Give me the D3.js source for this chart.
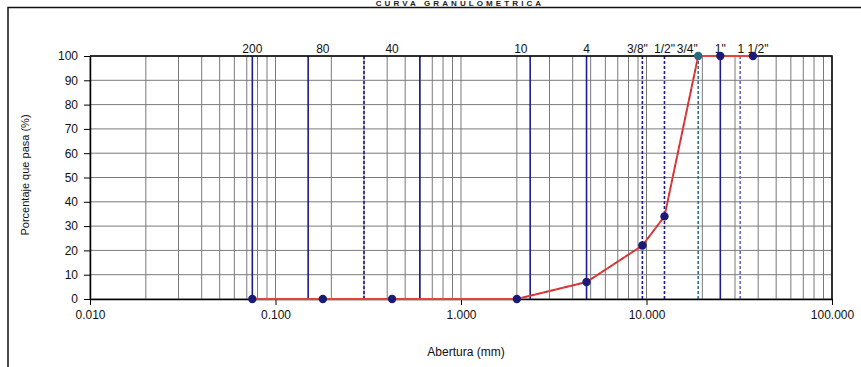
<!DOCTYPE html>
<html>
<head>
<meta charset="utf-8">
<script src="https://cdn.jsdelivr.net/npm/d3@7"></script>
<style>
  html, body { margin: 0; padding: 0; background: #fff; }
  svg { display: block; font-family: "Liberation Sans", Arial, sans-serif; }
</style>
</head>
<body>
<svg id="chart" width="861" height="367"></svg>
<script>
// ---- data ----
const title = "CURVA GRANULOMETRICA";
const xAxisTitle = "Abertura (mm)";
const yAxisTitle = "Porcentaje que pasa (%)";
const sieveSizes = [37.5, 25, 19, 12.5, 9.5, 4.75, 2.0, 0.425, 0.18, 0.075];
const percentPassing = [100, 100, 100, 34, 22, 7, 0, 0, 0, 0];
const sieveLabels = ["1 1/2\"", "1\"", "3/4\"", "1/2\"", "3/8\"", "4", "10", "40", "80", "200"];
const refLineSizes = [0.075, 0.15, 0.3, 0.6, 2.36, 4.75, 9.5, 12.5, 19, 25, 32];
const refLineDashed = [false, false, true, false, false, false, true, true, true, false, true];
const xTickValues = [0.01, 0.1, 1, 10, 100];
const yTickValues = [0, 10, 20, 30, 40, 50, 60, 70, 80, 90, 100];

// ---- layout ----
const svg = d3.select("#chart");
const L = 90, R = 832, T = 56, B = 299;
const x = d3.scaleLog().domain([0.01, 100]).range([L, R]);
const y = d3.scaleLinear().domain([0, 100]).range([B, T]);

// outer frame
svg.append("path").attr("d", "M8,367 L8,7.5 L861,7.5").attr("fill", "none")
  .attr("stroke", "#111").attr("stroke-width", 1.5);
svg.append("text").attr("x", 460).attr("y", 6.2).attr("text-anchor", "middle")
  .attr("font-size", 8).attr("font-weight", "bold").attr("letter-spacing", 3.1)
  .attr("fill", "#222").text(title);

// gridlines
const grid = svg.append("g");
const minor = [];
for (let e = -2; e < 2; e++) for (let k = 1; k <= 9; k++) minor.push(k * Math.pow(10, e));
minor.push(100);
grid.selectAll("line.v").data(minor).join("line")
  .attr("x1", d => x(d)).attr("x2", d => x(d)).attr("y1", T).attr("y2", B)
  .attr("stroke", "#7a7a7a").attr("stroke-width", 1);
grid.selectAll("line.h").data(yTickValues).join("line")
  .attr("x1", L).attr("x2", R).attr("y1", d => y(d)).attr("y2", d => y(d))
  .attr("stroke", "#7a7a7a").attr("stroke-width", 1);

// sieve reference lines
svg.append("g").selectAll("line").data(refLineSizes).join("line")
  .attr("x1", d => x(d)).attr("x2", d => x(d)).attr("y1", T).attr("y2", B)
  .attr("stroke", (d, i) => i === 8 ? "#2f6f8f" : (i === 10 ? "#6a6ac0" : "#1c1c8c"))
  .attr("stroke-width", 1.6)
  .attr("stroke-dasharray", (d, i) => refLineDashed[i] ? "3,2" : null);

// axes
const yAxis = d3.axisLeft(y).tickValues(yTickValues).tickSize(6).tickSizeOuter(0).tickFormat(d3.format("d"));
const gy = svg.append("g").attr("transform", `translate(${L},0)`).call(yAxis);
gy.select(".domain").attr("stroke", "#000").attr("stroke-width", 1.5);
gy.selectAll(".tick line").attr("stroke", "#000");
gy.selectAll(".tick text").attr("font-size", 12).attr("fill", "#111").attr("font-family", "Liberation Sans, Arial, sans-serif").attr("x", -12);

const xAxis = d3.axisBottom(x).tickValues(xTickValues).tickSize(6).tickSizeOuter(0).tickFormat(d3.format(".3f"));
const gx = svg.append("g").attr("transform", `translate(0,${B})`).call(xAxis);
gx.select(".domain").attr("stroke", "#000").attr("stroke-width", 1.5);
gx.selectAll(".tick line").attr("stroke", "#000");
gx.selectAll(".tick text").attr("font-size", 12).attr("fill", "#111").attr("font-family", "Liberation Sans, Arial, sans-serif").attr("y", 11);

// top & right border
svg.append("path").attr("d", `M${L},${T} L${R},${T} L${R},${B}`).attr("fill", "none")
  .attr("stroke", "#000").attr("stroke-width", 1.5);

// sieve labels
const labelDx = [0, 0, -11, 0, -5, 0, 4, 0, 0, 0];
svg.append("g").selectAll("text").data(sieveLabels).join("text")
  .attr("x", (d, i) => x(sieveSizes[i]) + labelDx[i]).attr("y", 53)
  .attr("text-anchor", "middle").attr("font-size", 12).attr("fill", "#111").text(d => d);

// curve
const pts = sieveSizes.map((s, i) => [s, percentPassing[i]]).sort((a, b) => a[0] - b[0]);
const line = d3.line().x(d => x(d[0])).y(d => y(d[1]));
svg.append("path").datum(pts).attr("d", line).attr("fill", "none")
  .attr("stroke", "#e8403a").attr("stroke-width", 2);
svg.append("path").datum(pts.filter(d => d[0] >= 2 && d[0] <= 19)).attr("d", line).attr("fill", "none")
  .attr("stroke", "#9a2a4a").attr("stroke-width", 1.2).attr("stroke-dasharray", "4,3").attr("opacity", 0.6);

// markers
svg.append("g").selectAll("circle").data(pts).join("circle")
  .attr("cx", d => x(d[0])).attr("cy", d => y(d[1])).attr("r", 4.2)
  .attr("fill", d => d[0] === 19 ? "#2a6a80" : "#1a1a78");

// axis titles
svg.append("text").attr("x", 466).attr("y", 356).attr("text-anchor", "middle")
  .attr("font-size", 12).attr("fill", "#111").text(xAxisTitle);
svg.append("text").attr("transform", "translate(29,175) rotate(-90)").attr("text-anchor", "middle")
  .attr("font-size", 11).attr("fill", "#111").text(yAxisTitle);
</script>
</body>
</html>
